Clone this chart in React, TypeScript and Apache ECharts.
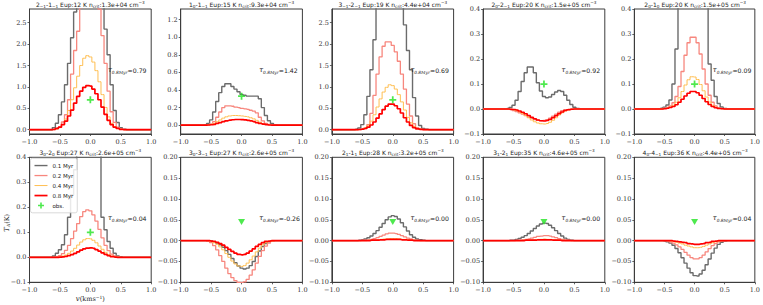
import React, { useEffect, useRef } from 'react';
import * as echarts from 'echarts';

// velocity channels (km/s)
const velocity = [-1.0, -0.95, -0.9, -0.85, -0.8, -0.75, -0.7, -0.65, -0.6, -0.55, -0.5, -0.45, -0.4, -0.35, -0.3, -0.25, -0.2, -0.15, -0.1, -0.05, 0.0, 0.05, 0.1, 0.15, 0.2, 0.25, 0.3, 0.35, 0.4, 0.45, 0.5, 0.55, 0.6, 0.65, 0.7, 0.75, 0.8, 0.85, 0.9, 0.95, 1.0];
// channels |v| > 0.6 are empty in every panel
const wing = [0, 0, 0, 0, 0, 0, 0, 0];

// central channels v = -0.6 ... 0.6 (25 values) for each panel and age
const p1_01 = [0.05, 0.15, 0.35, 0.65, 1.05, 1.55, 2.15, 2.75, 3.3, 3.8, 4.1, 4.2, 4.1, 3.9, 3.6, 3.3, 2.95, 2.35, 1.75, 1.05, 0.45, 0.17, 0.05, 0.01, 0];
const p1_02 = [0.005, 0.02, 0.06, 0.18, 0.35, 0.7, 1.3, 1.85, 2.3, 2.85, 3.15, 3.3, 3.25, 3.1, 2.95, 2.82, 2.2, 1.55, 0.9, 0.42, 0.17, 0.06, 0.02, 0.005, 0];
const p1_04 = [0.01, 0.02, 0.05, 0.12, 0.25, 0.45, 0.7, 0.98, 1.25, 1.5, 1.67, 1.73, 1.7, 1.58, 1.38, 1.12, 0.82, 0.52, 0.3, 0.15, 0.07, 0.03, 0.01, 0, 0];
const p1_08 = [0.01, 0.03, 0.06, 0.12, 0.2, 0.32, 0.46, 0.62, 0.78, 0.9, 0.99, 1.03, 1.02, 0.95, 0.84, 0.7, 0.53, 0.36, 0.22, 0.12, 0.06, 0.03, 0.01, 0, 0];

const p2_01 = [0.005, 0.02, 0.06, 0.15, 0.27, 0.37, 0.44, 0.47, 0.47, 0.44, 0.41, 0.38, 0.35, 0.34, 0.33, 0.33, 0.33, 0.33, 0.3, 0.2, 0.11, 0.05, 0.02, 0.005, 0];
const p2_02 = [0, 0.005, 0.015, 0.04, 0.09, 0.15, 0.2, 0.22, 0.22, 0.215, 0.205, 0.2, 0.19, 0.185, 0.18, 0.17, 0.16, 0.14, 0.09, 0.05, 0.02, 0.008, 0.002, 0, 0];
const p2_04 = [0, 0.003, 0.008, 0.02, 0.04, 0.06, 0.08, 0.095, 0.105, 0.11, 0.11, 0.108, 0.105, 0.1, 0.095, 0.085, 0.072, 0.055, 0.035, 0.018, 0.008, 0.003, 0, 0, 0];
const p2_08 = [0, 0.002, 0.005, 0.01, 0.02, 0.03, 0.04, 0.05, 0.057, 0.062, 0.065, 0.065, 0.063, 0.06, 0.055, 0.048, 0.04, 0.03, 0.02, 0.012, 0.006, 0.002, 0, 0, 0];

const p3_01 = [0.01, 0.04, 0.12, 0.35, 0.78, 1.4, 2.1, 2.9, 3.5, 3.9, 4.1, 4.1, 4.0, 3.7, 3.3, 2.9, 2.45, 1.85, 1.4, 0.75, 0.32, 0.1, 0.03, 0.01, 0];
const p3_02 = [0, 0.005, 0.015, 0.04, 0.12, 0.38, 0.8, 1.3, 1.7, 1.95, 2.05, 2.05, 1.97, 1.82, 1.6, 1.3, 0.95, 0.6, 0.32, 0.14, 0.05, 0.02, 0.005, 0, 0];
const p3_04 = [0, 0.005, 0.015, 0.04, 0.1, 0.2, 0.35, 0.53, 0.72, 0.88, 0.99, 1.05, 1.03, 0.95, 0.82, 0.65, 0.46, 0.29, 0.16, 0.08, 0.03, 0.01, 0.003, 0, 0];
const p3_08 = [0, 0.005, 0.015, 0.03, 0.06, 0.11, 0.18, 0.27, 0.37, 0.47, 0.55, 0.6, 0.6, 0.56, 0.49, 0.39, 0.28, 0.18, 0.1, 0.05, 0.02, 0.008, 0.002, 0, 0];

const p4_01 = [0.002, 0.006, 0.015, 0.035, 0.07, 0.11, 0.145, 0.168, 0.168, 0.145, 0.105, 0.072, 0.05, 0.045, 0.048, 0.058, 0.068, 0.074, 0.07, 0.055, 0.035, 0.018, 0.007, 0.002, 0];
const p4_02 = [-0.001, -0.003, -0.006, -0.01, -0.015, -0.02, -0.026, -0.032, -0.037, -0.042, -0.045, -0.047, -0.046, -0.043, -0.037, -0.029, -0.021, -0.013, -0.007, -0.003, -0.001, 0, 0, 0, 0];
const p4_04 = [0, -0.001, -0.003, -0.006, -0.011, -0.018, -0.026, -0.035, -0.044, -0.051, -0.056, -0.059, -0.06, -0.058, -0.053, -0.045, -0.035, -0.024, -0.015, -0.008, -0.004, -0.001, 0, 0, 0];
const p4_08 = [0, -0.001, -0.002, -0.004, -0.008, -0.013, -0.019, -0.026, -0.033, -0.039, -0.044, -0.047, -0.048, -0.046, -0.042, -0.035, -0.027, -0.019, -0.012, -0.006, -0.003, -0.001, 0, 0, 0];

const p5_01 = [0.001, 0.003, 0.007, 0.016, 0.036, 0.1, 0.24, 0.42, 0.55, 0.62, 0.66, 0.67, 0.65, 0.6, 0.53, 0.46, 0.41, 0.18, 0.115, 0.05, 0.022, 0.008, 0.002, 0, 0];
const p5_02 = [0, 0, 0.003, 0.006, 0.012, 0.025, 0.05, 0.09, 0.15, 0.215, 0.265, 0.287, 0.287, 0.265, 0.22, 0.16, 0.1, 0.055, 0.027, 0.012, 0.005, 0.002, 0, 0, 0];
const p5_04 = [0, 0, 0.002, 0.004, 0.008, 0.015, 0.027, 0.045, 0.07, 0.096, 0.117, 0.129, 0.128, 0.118, 0.098, 0.073, 0.048, 0.028, 0.015, 0.007, 0.003, 0.001, 0, 0, 0];
const p5_08 = [0, 0, 0.001, 0.003, 0.006, 0.01, 0.017, 0.027, 0.039, 0.052, 0.063, 0.07, 0.07, 0.065, 0.055, 0.042, 0.029, 0.018, 0.01, 0.005, 0.002, 0.001, 0, 0, 0];

const p6_01 = [0.005, 0.016, 0.03, 0.05, 0.09, 0.16, 0.25, 0.35, 0.46, 0.55, 0.6, 0.62, 0.6, 0.55, 0.48, 0.41, 0.16, 0.11, 0.063, 0.036, 0.016, 0.005, 0.002, 0, 0];
const p6_02 = [0, 0.003, 0.007, 0.015, 0.028, 0.048, 0.075, 0.105, 0.135, 0.163, 0.183, 0.19, 0.186, 0.17, 0.145, 0.112, 0.078, 0.048, 0.027, 0.013, 0.006, 0.002, 0, 0, 0];
const p6_04 = [0, 0, 0.002, 0.005, 0.009, 0.016, 0.025, 0.036, 0.049, 0.061, 0.07, 0.075, 0.074, 0.068, 0.058, 0.045, 0.032, 0.02, 0.011, 0.005, 0.002, 0.001, 0, 0, 0];
const p6_08 = [0, 0, 0.001, 0.002, 0.004, 0.007, 0.011, 0.016, 0.022, 0.029, 0.034, 0.037, 0.038, 0.036, 0.031, 0.025, 0.018, 0.012, 0.007, 0.003, 0.001, 0, 0, 0, 0];

const p7_01 = [0, 0, -0.001, -0.003, -0.006, -0.01, -0.016, -0.024, -0.033, -0.043, -0.053, -0.061, -0.066, -0.068, -0.066, -0.06, -0.05, -0.038, -0.025, -0.014, -0.007, -0.003, -0.001, 0, 0];
const p7_02 = [0, -0.002, -0.005, -0.012, -0.022, -0.036, -0.05, -0.066, -0.079, -0.089, -0.096, -0.1, -0.101, -0.099, -0.093, -0.083, -0.07, -0.054, -0.038, -0.024, -0.013, -0.006, -0.002, 0, 0];
const p7_04 = [0, 0, -0.002, -0.005, -0.009, -0.015, -0.022, -0.031, -0.04, -0.049, -0.056, -0.061, -0.062, -0.06, -0.054, -0.046, -0.037, -0.027, -0.018, -0.01, -0.005, -0.002, -0.001, 0, 0];
const p7_08 = [0, 0, -0.001, -0.002, -0.004, -0.007, -0.011, -0.016, -0.021, -0.026, -0.03, -0.033, -0.034, -0.033, -0.03, -0.025, -0.02, -0.014, -0.009, -0.005, -0.002, -0.001, 0, 0, 0];

const p8_01 = [0, 0.001, 0.002, 0.004, 0.007, 0.011, 0.017, 0.024, 0.032, 0.041, 0.05, 0.057, 0.06, 0.058, 0.052, 0.043, 0.033, 0.023, 0.014, 0.008, 0.004, 0.002, 0.001, 0, 0];
const p8_02 = [0, 0, 0.001, 0.001, 0.002, 0.003, 0.005, 0.007, 0.01, 0.013, 0.016, 0.018, 0.018, 0.017, 0.015, 0.012, 0.009, 0.006, 0.004, 0.002, 0.001, 0, 0, 0, 0];
const p8_04 = [0, 0, 0, 0, 0.001, 0.001, 0.001, 0.002, 0.003, 0.004, 0.004, 0.005, 0.005, 0.005, 0.004, 0.003, 0.003, 0.002, 0.001, 0.001, 0, 0, 0, 0, 0];
const p8_08 = [0, 0, 0, 0, 0, 0.001, 0.001, 0.001, 0.002, 0.002, 0.003, 0.003, 0.003, 0.003, 0.003, 0.002, 0.002, 0.001, 0.001, 0, 0, 0, 0, 0, 0];

const p9_01 = [0, 0.001, 0.001, 0.003, 0.005, 0.008, 0.012, 0.017, 0.023, 0.029, 0.035, 0.04, 0.042, 0.041, 0.037, 0.031, 0.024, 0.017, 0.011, 0.006, 0.003, 0.001, 0, 0, 0];
const p9_02 = [0, 0, 0, 0.001, 0.001, 0.002, 0.003, 0.004, 0.006, 0.008, 0.01, 0.011, 0.012, 0.012, 0.011, 0.009, 0.007, 0.005, 0.003, 0.002, 0.001, 0, 0, 0, 0];
const p9_04 = [0, 0, 0, 0, 0, 0.001, 0.001, 0.001, 0.002, 0.002, 0.003, 0.003, 0.004, 0.003, 0.003, 0.002, 0.002, 0.001, 0.001, 0, 0, 0, 0, 0, 0];
const p9_08 = [0, 0, 0, 0, 0, 0, 0.001, 0.001, 0.001, 0.001, 0.002, 0.002, 0.002, 0.002, 0.002, 0.001, 0.001, 0.001, 0, 0, 0, 0, 0, 0, 0];

const p10_01 = [0, 0, -0.001, -0.003, -0.006, -0.011, -0.019, -0.029, -0.041, -0.054, -0.066, -0.077, -0.084, -0.085, -0.08, -0.071, -0.058, -0.044, -0.03, -0.018, -0.009, -0.004, -0.001, 0, 0];
const p10_02 = [0, 0, 0, -0.001, -0.003, -0.006, -0.01, -0.015, -0.021, -0.028, -0.035, -0.041, -0.044, -0.044, -0.041, -0.035, -0.027, -0.019, -0.012, -0.007, -0.003, -0.001, 0, 0, 0];
const p10_04 = [0, 0, 0, 0, -0.001, -0.002, -0.004, -0.006, -0.008, -0.011, -0.013, -0.015, -0.017, -0.017, -0.016, -0.014, -0.011, -0.008, -0.005, -0.003, -0.001, 0, 0, 0, 0];
const p10_08 = [0, 0, 0, 0, 0, -0.001, -0.002, -0.003, -0.004, -0.005, -0.007, -0.008, -0.009, -0.009, -0.008, -0.007, -0.005, -0.004, -0.002, -0.001, 0, 0, 0, 0, 0];

const seriesNames = ['0.1 Myr', '0.2 Myr', '0.4 Myr', '0.8 Myr'];
const titles = [
  '2_{−1}-1_{−1} Eup:12 K n_{crit}:1.3e+04 cm^{−3}',
  '1_{0}-1_{−1} Eup:15 K n_{crit}:9.3e+04 cm^{−3}',
  '3_{−1}-2_{−1} Eup:19 K n_{crit}:4.4e+04 cm^{−3}',
  '2_{0}-2_{−1} Eup:20 K n_{crit}:1.5e+05 cm^{−3}',
  '2_{0}-1_{0} Eup:20 K n_{crit}:1.5e+05 cm^{−3}',
  '3_{0}-2_{0} Eup:27 K n_{crit}:2.6e+05 cm^{−3}',
  '3_{0}-3_{−1} Eup:27 K n_{crit}:2.6e+05 cm^{−3}',
  '2_{1}-1_{1} Eup:28 K n_{crit}:3.2e+05 cm^{−3}',
  '3_{1}-2_{1} Eup:35 K n_{crit}:4.6e+05 cm^{−3}',
  '4_{0}-4_{−1} Eup:36 K n_{crit}:4.4e+05 cm^{−3}',
];
const tauValues = ['0.79', '1.42', '0.69', '0.92', '0.09', '0.04', '-0.26', '0.00', '0.00', '0.04'];
const obsVelocity = [0, 0, 0, 0, 0, 0, 0, 0, 0, 0];
const obsTA = [0.7, 0.33, 0.7, 0.1, 0.1, 0.1, 0.045, 0.045, 0.045, 0.045];
const obsMarker = ['plus', 'plus', 'plus', 'plus', 'plus', 'plus', 'tri', 'tri', 'tri', 'tri'];

const xTicks = [-1, -0.5, 0, 0.5, 1];
const yTicksBright = [0, 0.5, 1, 1.5, 2, 2.5];
const yTicksP2 = [0, 0.2, 0.4, 0.6, 0.8, 1.0, 1.2];
const yTicksMid = [-0.1, 0, 0.1, 0.2, 0.3, 0.4];
const yTicksFaint = [-0.1, -0.05, 0, 0.05, 0.1, 0.15, 0.2];

const full = (core: number[]) => [...wing, ...core, ...wing];

const panelLines = [
  [p1_01, p1_02, p1_04, p1_08],
  [p2_01, p2_02, p2_04, p2_08],
  [p3_01, p3_02, p3_04, p3_08],
  [p4_01, p4_02, p4_04, p4_08],
  [p5_01, p5_02, p5_04, p5_08],
  [p6_01, p6_02, p6_04, p6_08],
  [p7_01, p7_02, p7_04, p7_08],
  [p8_01, p8_02, p8_04, p8_08],
  [p9_01, p9_02, p9_04, p9_08],
  [p10_01, p10_02, p10_04, p10_08],
];
const panelY = [
  { min: -0.1, max: 2.82, ticks: yTicksBright, dec: 1 },
  { min: -0.1, max: 1.32, ticks: yTicksP2, dec: 1 },
  { min: -0.1, max: 2.82, ticks: yTicksBright, dec: 1 },
  { min: -0.1, max: 0.4, ticks: yTicksMid, dec: 1 },
  { min: -0.1, max: 0.4, ticks: yTicksMid, dec: 1 },
  { min: -0.1, max: 0.4, ticks: yTicksMid, dec: 1 },
  { min: -0.1, max: 0.2, ticks: yTicksFaint, dec: 2 },
  { min: -0.1, max: 0.2, ticks: yTicksFaint, dec: 2 },
  { min: -0.1, max: 0.2, ticks: yTicksFaint, dec: 2 },
  { min: -0.1, max: 0.2, ticks: yTicksFaint, dec: 2 },
];

const LINE_COLORS = ['#6b6b6b', '#f7877e', '#ffbe50', '#ff0000'];
const LINE_WIDTHS = [1.4, 1.3, 1.0, 1.7];
const GREEN = '#22e322';
const AXIS_COLOR = '#3c3c3c';

const GRID_W = 121.7;
const GRID_H = 125;
const gridLeft = (c: number) => 29.5 + c * 151.2;
const gridTop = (r: number) => (r === 0 ? 9 : 157.3);

const PLUS = 'path://M-1,-4H1V-1H4V1H1V4H-1V1H-4V-1H-1Z';
const lineIcon = (t: number) => `path://M0,0L0,0M13,6L13,6M0,${3 - t / 2}H13V${3 + t / 2}H0Z`;
const plusIcon = 'path://M0,0L0,0M13,6L13,6M3.5,2.2H9.5V3.8H3.5ZM5.7,0H7.3V6H5.7Z';

const fmt = (v: number, d: number) => v.toFixed(d).replace('-', '−');
const toRich = (s: string) =>
  '{n|' + s.replace(/_\{([^}]*)\}/g, '}{s|$1}{n|').replace(/\^\{([^}]*)\}/g, '}{p|$1}{n|') + '}';

const titleRich = {
  n: { fontSize: 6, fontFamily: 'DejaVu Sans', fill: '#222', lineHeight: 8, verticalAlign: 'middle' },
  s: { fontSize: 4.2, fontFamily: 'DejaVu Sans', fill: '#222', lineHeight: 4, verticalAlign: 'bottom' },
  p: { fontSize: 4.2, fontFamily: 'DejaVu Sans', fill: '#222', lineHeight: 4, verticalAlign: 'top' },
};
const tauRich = {
  t: { fontSize: 7, fontFamily: 'DejaVu Serif', fontStyle: 'italic', fill: '#222', lineHeight: 9, verticalAlign: 'middle' },
  u: { fontSize: 4.3, fontFamily: 'DejaVu Serif', fontStyle: 'italic', fill: '#222', lineHeight: 4, verticalAlign: 'bottom' },
  n: { fontSize: 6.2, fontFamily: 'DejaVu Sans', fill: '#222', lineHeight: 9, verticalAlign: 'middle' },
};
const ylabelRich = {
  i: { fontSize: 7, fontFamily: 'DejaVu Serif', fontStyle: 'italic', fill: '#222', lineHeight: 8, verticalAlign: 'middle' },
  s: { fontSize: 4.5, fontFamily: 'DejaVu Serif', fontStyle: 'italic', fill: '#222', lineHeight: 4, verticalAlign: 'bottom' },
  n: { fontSize: 6.5, fontFamily: 'DejaVu Serif', fill: '#222', lineHeight: 8, verticalAlign: 'middle' },
};

function buildOption() {
  const grid: any[] = [];
  const xAxis: any[] = [];
  const yAxis: any[] = [];
  const series: any[] = [];
  const graphic: any[] = [];

  panelLines.forEach((lines, i) => {
    const r = Math.floor(i / 5);
    const c = i % 5;
    const left = gridLeft(c);
    const top = gridTop(r);
    grid.push({ left, top, width: GRID_W, height: GRID_H, show: true, borderColor: AXIS_COLOR, borderWidth: 1, backgroundColor: 'transparent' });
    const axisCommon = {
      axisLine: { show: true, onZero: false, lineStyle: { color: AXIS_COLOR, width: 1 } },
      splitLine: { show: false },
    };
    xAxis.push({
      ...axisCommon,
      gridIndex: i, type: 'value', min: -1, max: 1,
      axisTick: { show: true, length: 2, customValues: xTicks, lineStyle: { color: AXIS_COLOR, width: 0.8 } },
      axisLabel: { customValues: xTicks, formatter: (v: number) => fmt(v, 1), fontSize: 6.5, fontFamily: 'DejaVu Serif', color: '#333', margin: 4 },
      ...(i === 5
        ? {
            name: '{i|v}{n|(kms}{p|−1}{n|)}', nameLocation: 'middle', nameGap: 13,
            nameTextStyle: {
              rich: {
                i: { fontSize: 7, fontFamily: 'DejaVu Serif', fontStyle: 'italic', color: '#222', lineHeight: 8, verticalAlign: 'middle' },
                n: { fontSize: 6.5, fontFamily: 'DejaVu Serif', color: '#222', lineHeight: 8, verticalAlign: 'middle' },
                p: { fontSize: 4.5, fontFamily: 'DejaVu Serif', color: '#222', lineHeight: 4, verticalAlign: 'top' },
              },
            },
          }
        : {}),
    });
    const py = panelY[i];
    yAxis.push({
      ...axisCommon,
      gridIndex: i, type: 'value', min: py.min, max: py.max,
      axisTick: { show: true, length: 2, customValues: py.ticks, lineStyle: { color: AXIS_COLOR, width: 0.8 } },
      axisLabel: { customValues: py.ticks, formatter: (v: number) => fmt(v, py.dec), fontSize: 6.5, fontFamily: 'DejaVu Serif', color: '#333', margin: 3 },
    });

    lines.forEach((core, k) => {
      const vals = full(core);
      series.push({
        type: 'line', name: seriesNames[k], xAxisIndex: i, yAxisIndex: i,
        data: velocity.map((v, j) => [v, vals[j]]),
        step: 'middle', symbol: 'none', showSymbol: false, clip: true, silent: true,
        lineStyle: { color: LINE_COLORS[k], width: LINE_WIDTHS[k] },
        itemStyle: { color: LINE_COLORS[k] },
        z: 2 + k,
      });
    });
    const isPlus = obsMarker[i] === 'plus';
    series.push({
      type: 'scatter', name: 'obs.', xAxisIndex: i, yAxisIndex: i,
      data: [[obsVelocity[i], obsTA[i]]],
      symbol: isPlus ? PLUS : 'triangle',
      symbolSize: isPlus ? 7 : [7, 6],
      symbolRotate: isPlus ? 0 : 180,
      itemStyle: { color: GREEN }, silent: true, z: 10,
    });

    graphic.push({
      type: 'text', x: left + GRID_W / 2, y: top - 4.5, z: 100,
      style: { text: toRich(titles[i]), rich: titleRich, align: 'center', verticalAlign: 'middle' },
    });
    graphic.push({
      type: 'text', x: left + 78.5, y: top + 61, z: 100,
      style: { text: `{t|τ}{u|0.8Myr}{n|=${tauValues[i]}}`, rich: tauRich, align: 'left', verticalAlign: 'middle' },
    });
  });

  // y-axis label of the lower-left panel
  graphic.push({
    type: 'text', x: 7, y: gridTop(1) + GRID_H / 2 + 3, rotation: Math.PI / 2, z: 100,
    style: { text: '{i|T}{s|A}{n|(K)}', rich: ylabelRich, align: 'center', verticalAlign: 'middle' },
  });

  return {
    animation: false,
    backgroundColor: '#ffffff',
    grid, xAxis, yAxis, series, graphic,
    legend: {
      orient: 'vertical', left: 30.5, top: 158.3,
      padding: [3.5, 4, 3.5, 4], itemGap: 2.5, itemWidth: 13, itemHeight: 6,
      borderColor: '#cfcfcf', borderWidth: 0.8, borderRadius: 2, backgroundColor: 'rgba(255,255,255,0.85)',
      itemStyle: { borderWidth: 0 },
      textStyle: { fontSize: 5.5, fontFamily: 'DejaVu Sans', color: '#222', lineHeight: 7.5 },
      selectedMode: false,
      data: [
        ...seriesNames.map((n, k) => ({ name: n, icon: lineIcon(LINE_WIDTHS[k]), itemStyle: { color: LINE_COLORS[k], borderWidth: 0 } })),
        { name: 'obs.', icon: plusIcon, itemStyle: { color: GREEN, borderWidth: 0 } },
      ],
    },
  };
}

export default function App() {
  const ref = useRef<HTMLDivElement>(null);
  useEffect(() => {
    if (!ref.current) return;
    const chart = echarts.init(ref.current, null, { renderer: 'svg' });
    chart.setOption(buildOption() as any);
    return () => chart.dispose();
  }, []);
  return <div ref={ref} style={{ position: 'fixed', left: 0, top: 0, width: 763, height: 305 }} />;
}
